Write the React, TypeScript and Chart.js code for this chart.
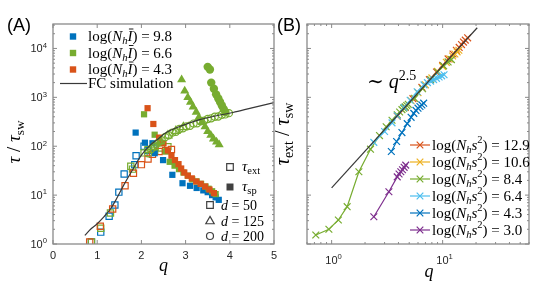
import React, { useEffect, useRef } from 'react';
import { Chart, registerables } from 'chart.js';

Chart.register(...registerables);

// ---------------- Panel A data: [q, tau/tau_sw] ----------------
const fcSimulation: [number, number][] = [
  [0.72, 1.5], [0.85, 2.0], [1.0, 2.6], [1.15, 3.6], [1.3, 5.2], [1.44, 8.5], [1.6, 16],
  [1.8, 33], [2.0, 66], [2.2, 105], [2.35, 135], [2.58, 195], [2.95, 270], [3.32, 350],
  [3.7, 420], [4.07, 490], [4.5, 610], [5.0, 780],
];
const blueExt50: [number, number][] = [
  [0.87, 1.1], [1.08, 1.75], [1.27, 3.7], [1.4, 6.3], [1.49, 11.5], [1.61, 27], [1.85, 42],
  [1.88, 64], [2.06, 100], [2.15, 82], [2.28, 98],
];
const orangeExt50: [number, number][] = [
  [0.83, 1.1], [1.07, 2.3], [1.35, 5.2], [1.63, 15.5], [1.82, 28], [2.0, 42], [2.15, 55],
  [2.25, 68], [2.4, 78], [2.55, 82], [2.68, 86],
];
const greenExt50: [number, number][] = [
  [0.87, 1.1], [1.08, 2.1], [1.3, 4.3], [1.76, 39], [1.8, 34], [2.06, 73], [2.15, 86],
  [2.3, 80], [2.45, 92], [2.6, 98],
];
const blueSp50: [number, number][] = [
  [1.87, 190], [2.08, 118], [2.25, 115], [2.3, 72], [2.49, 52], [2.7, 26], [2.93, 17.5],
  [3.1, 15.5], [3.25, 14], [3.4, 12.5], [3.5, 11.5], [3.6, 10], [3.68, 9], [3.75, 8],
];
const greenSp50: [number, number][] = [
  [2.06, 450], [2.3, 172], [2.42, 115], [2.55, 78], [2.64, 48], [2.75, 40], [2.85, 34],
  [2.95, 29], [3.05, 25], [3.15, 21], [3.25, 19], [3.35, 17], [3.45, 15], [3.52, 13.5],
  [3.6, 12], [3.68, 10.5],
];
const orangeSp50: [number, number][] = [
  [2.14, 600], [2.27, 285], [2.4, 150], [2.5, 115], [2.6, 82], [2.68, 64], [2.76, 52],
  [2.84, 43], [2.9, 35], [2.97, 29], [3.05, 25], [3.14, 22], [3.24, 19], [3.34, 17],
  [3.44, 15], [3.54, 13], [3.64, 11],
];
const greenSp125: [number, number][] = [
  [2.91, 2300], [2.98, 1350], [3.05, 1000], [3.11, 800], [3.17, 640], [3.24, 500],
  [3.3, 390], [3.37, 310], [3.44, 250], [3.5, 200], [3.57, 168], [3.63, 142], [3.7, 122],
  [3.76, 108],
];
const greenExt125: [number, number][] = [
  [2.25, 95], [2.42, 125], [2.6, 165], [2.78, 205], [2.95, 245],
];
const greenSp200: [number, number][] = [
  [3.5, 4200], [3.55, 3700], [3.58, 2000], [3.64, 1500], [3.69, 1150], [3.74, 950],
  [3.78, 800], [3.82, 680], [3.86, 580], [3.9, 500],
];
const greenExt200: [number, number][] = [
  [2.15, 72], [2.22, 88], [2.3, 98], [2.38, 118], [2.46, 132], [2.54, 155], [2.62, 168],
  [2.7, 190], [2.78, 198], [2.86, 225], [2.94, 232], [3.02, 255], [3.1, 262], [3.18, 290],
  [3.26, 296], [3.34, 325], [3.42, 332], [3.5, 360], [3.58, 372], [3.66, 400], [3.74, 405],
  [3.82, 440], [3.9, 448], [3.98, 475],
];

// ---------------- Panel B data: [q, tau_ext/tau_sw] ----------------
const fitQ25: [number, number][] = [[1.0, 14], [20.5, 26500]];
const ns129: [number, number][] = [
  [3.9, 410], [4.6, 620], [5.4, 940], [6.5, 1600], [7.6, 2300], [8.8, 3300], [10, 4500],
  [11.2, 6100], [12.4, 7700], [13.3, 9200], [14.1, 10500], [14.8, 12000], [15.4, 13500],
  [16.0, 14800], [16.8, 16500],
];
const ns106: [number, number][] = [
  [5.2, 850], [6.0, 1250], [7.0, 1800], [8.0, 2500], [9.0, 3400], [10.0, 4300],
  [10.8, 5200], [11.6, 6100], [12.3, 7000], [12.9, 7700], [13.5, 8500], [14.0, 9200],
];
const ns84: [number, number][] = [
  [0.72, 1.53], [0.945, 2.0], [1.15, 3.1], [1.38, 5.8], [1.76, 30], [2.24, 87], [2.7, 165],
  [3.1, 250], [3.5, 340], [3.9, 440], [4.1, 500], [4.3, 560], [4.45, 600], [4.6, 640],
  [4.75, 680], [4.9, 720], [5.6, 950], [6.6, 1500], [7.8, 2300], [9.0, 3300], [10.2, 4400],
  [11.2, 5300], [12.0, 5900],
];
const ns64: [number, number][] = [
  [2.4, 120], [3.0, 200], [3.5, 300], [3.9, 420], [4.5, 620], [5.1, 870], [5.9, 1300],
  [6.8, 1800], [7.3, 2000], [7.8, 2150], [8.3, 2300], [8.8, 2450], [9.3, 2600], [9.8, 2750],
  [10.3, 2900],
];
const ns43: [number, number][] = [
  [3.45, 78], [3.85, 125], [4.3, 190], [4.8, 290], [5.2, 390], [5.5, 470], [5.75, 540],
  [6.0, 600], [6.25, 650], [6.5, 700], [6.75, 760],
];
const ns30: [number, number][] = [
  [2.4, 3.6], [3.28, 11.7], [3.9, 23.6], [4.05, 27], [4.2, 30], [4.35, 33], [4.5, 37],
  [4.65, 41],
];

// ---------------- ticks & labels ----------------
const aXTicks = [0, 1, 2, 3, 4, 5];
const aYDecades = [0, 1, 2, 3, 4];
const bXDecades = [0, 1];
const aLegendValues = ['9.8', '6.6', '4.3'];
const bLegendValues = ['12.9', '10.6', '8.4', '6.4', '4.3', '3.0'];

const BLUE = '#0072BD';
const ORANGE = '#D95319';
const YELLOW = '#EDB120';
const PURPLE = '#7E2F8E';
const GREEN = '#77AC30';
const LBLUE = '#4DBEEE';
const AXIS = '#8a8a8a';
const TXT = '#262626';
const LINEC = '#383838';
const SERIF = '"Liberation Serif","DejaVu Serif",serif';
const SANS = '"Liberation Sans","DejaVu Sans",Arial,sans-serif';

const toXY = (arr: [number, number][]) => arr.map(([x, y]) => ({ x, y }));

type Seg = { t: string; i?: boolean; sub?: boolean; sup?: boolean; bar?: boolean };

function segFont(s: Seg, size: number, fam: string) {
  const sz = s.sub || s.sup ? size * 0.7 : size;
  return `${s.i ? 'italic ' : ''}${sz}px ${fam}`;
}
function richWidth(ctx: CanvasRenderingContext2D, segs: Seg[], size: number, fam: string) {
  let w = 0;
  for (const s of segs) { ctx.font = segFont(s, size, fam); w += ctx.measureText(s.t).width; }
  return w;
}
function drawRich(ctx: CanvasRenderingContext2D, segs: Seg[], x: number, y: number, size: number,
  fam: string, align: 'left' | 'center' | 'right' = 'left', color = '#000') {
  const w = richWidth(ctx, segs, size, fam);
  let cx = align === 'left' ? x : align === 'center' ? x - w / 2 : x - w;
  ctx.textAlign = 'left';
  ctx.textBaseline = 'alphabetic';
  ctx.fillStyle = color;
  for (const s of segs) {
    ctx.font = segFont(s, size, fam);
    const dy = s.sub ? size * 0.22 : s.sup ? -size * 0.42 : 0;
    ctx.fillText(s.t, cx, y + dy);
    const sw = ctx.measureText(s.t).width;
    if (s.bar) {
      ctx.save();
      ctx.strokeStyle = color; ctx.lineWidth = 0.9;
      ctx.beginPath();
      ctx.moveTo(cx + 1.5, y - size * 0.8); ctx.lineTo(cx + sw + 1, y - size * 0.8);
      ctx.stroke();
      ctx.restore();
    }
    cx += sw;
  }
}
function marker(ctx: CanvasRenderingContext2D, kind: string, x: number, y: number, r: number,
  color: string, fill: boolean) {
  ctx.save();
  ctx.beginPath();
  if (kind === 'sq') ctx.rect(x - r, y - r, 2 * r, 2 * r);
  else if (kind === 'tri') { ctx.moveTo(x, y - r * 1.1); ctx.lineTo(x + r, y + r * 0.65); ctx.lineTo(x - r, y + r * 0.65); ctx.closePath(); }
  else if (kind === 'circ') ctx.arc(x, y, r, 0, Math.PI * 2);
  else if (kind === 'x') { ctx.moveTo(x - r, y - r); ctx.lineTo(x + r, y + r); ctx.moveTo(x + r, y - r); ctx.lineTo(x - r, y + r); }
  if (fill) { ctx.fillStyle = color; ctx.fill(); }
  else { ctx.strokeStyle = color; ctx.lineWidth = 1.2; ctx.stroke(); }
  ctx.restore();
}
function seg(ctx: CanvasRenderingContext2D, x1: number, y1: number, x2: number, y2: number) {
  ctx.beginPath(); ctx.moveTo(x1, y1); ctx.lineTo(x2, y2); ctx.stroke();
}
function logTicks(scale: any, min: number, max: number, fn: (p: number, major: boolean) => void) {
  for (let d = Math.floor(Math.log10(min)); d <= Math.ceil(Math.log10(max)); d++) {
    for (let k = 1; k <= 9; k++) {
      const v = k * Math.pow(10, d);
      if (v >= min * 0.999 && v <= max * 1.001) fn(scale.getPixelForValue(v), k === 1);
    }
  }
}
const pow10 = (n: number) => [{ t: '10' }, { t: String(n), sup: true }] as Seg[];
const logNI = (v: string): Seg[] => [{ t: 'log(' }, { t: 'N', i: true }, { t: 'h', i: true, sub: true }, { t: 'I', i: true, bar: true }, { t: ') = ' + v }];
const logNs = (v: string): Seg[] => [{ t: 'log(' }, { t: 'N', i: true }, { t: 'h', i: true, sub: true }, { t: 's', i: true }, { t: '2', sup: true }, { t: ') = ' + v }];

const A_YMIN = 1, A_YMAX = 31623;
const B_XMIN = 0.6, B_XMAX = 60, B_YMIN = 1, B_YMAX = 31623;

const frameA = {
  id: 'frameA',
  afterDraw(chart: any) {
    const { ctx, chartArea: ca, scales } = chart;
    const xs = scales.x, ys = scales.y;
    ctx.save();
    ctx.strokeStyle = AXIS; ctx.lineWidth = 1.3;
    ctx.strokeRect(ca.left, ca.top, ca.right - ca.left, ca.bottom - ca.top);
    ctx.lineWidth = 1;
    for (const v of aXTicks) {
      const p = xs.getPixelForValue(v);
      seg(ctx, p, ca.bottom, p, ca.bottom - 4); seg(ctx, p, ca.top, p, ca.top + 4);
    }
    logTicks(ys, A_YMIN, A_YMAX, (p, major) => {
      const L = major ? 4 : 2;
      seg(ctx, ca.left, p, ca.left + L, p); seg(ctx, ca.right, p, ca.right - L, p);
    });
    // tick labels
    for (const v of aXTicks) {
      drawRich(ctx, [{ t: String(v) }], xs.getPixelForValue(v), ca.bottom + 14.5, 11, SANS, 'center', TXT);
    }
    for (const n of aYDecades) {
      drawRich(ctx, pow10(n), ca.left - 6, ys.getPixelForValue(Math.pow(10, n)) + 4, 11, SANS, 'right', TXT);
    }
    // axis titles
    drawRich(ctx, [{ t: 'q', i: true }], (ca.left + ca.right) / 2, 271, 18, SERIF, 'center', '#000');
    ctx.save();
    ctx.translate(20, 142); ctx.rotate(-Math.PI / 2);
    drawRich(ctx, [{ t: 'τ', i: true }, { t: ' / ' }, { t: 'τ', i: true }, { t: 'sw', sub: true }], 0, 0, 19, SERIF, 'center', '#000');
    ctx.restore();
    // panel label
    drawRich(ctx, [{ t: '(A)' }], 7, 31, 18, SANS, 'left', '#000');
    // top-left legend
    const cols = [BLUE, GREEN, ORANGE];
    const rows = [36.5, 53, 69.5];
    for (let k = 0; k < 3; k++) {
      marker(ctx, 'sq', 73, rows[k], 3.2, cols[k], true);
      drawRich(ctx, logNI(aLegendValues[k]), 88, rows[k] + 4.5, 15, SERIF, 'left', '#000');
    }
    ctx.strokeStyle = LINEC; ctx.lineWidth = 1.2;
    seg(ctx, 60, 83.5, 87, 83.5);
    drawRich(ctx, [{ t: 'FC simulation' }], 88, 88, 15, SERIF, 'left', '#000');
    // bottom-right legend
    const dk = '#404040';
    marker(ctx, 'sq', 230, 167, 3.3, dk, false);
    drawRich(ctx, [{ t: 'τ', i: true }, { t: 'ext', sub: true }], 242, 171, 15, SERIF, 'left', '#000');
    marker(ctx, 'sq', 230, 187, 3.5, dk, true);
    drawRich(ctx, [{ t: 'τ', i: true }, { t: 'sp', sub: true }], 242, 191, 15, SERIF, 'left', '#000');
    marker(ctx, 'sq', 210, 205, 3.3, dk, false);
    drawRich(ctx, [{ t: 'd', i: true }, { t: ' = 50' }], 221, 209.5, 14, SERIF, 'left', '#000');
    marker(ctx, 'tri', 210, 221, 4.2, dk, false);
    drawRich(ctx, [{ t: 'd', i: true }, { t: ' = 125' }], 221, 225.5, 14, SERIF, 'left', '#000');
    marker(ctx, 'circ', 210, 236, 3.5, dk, false);
    drawRich(ctx, [{ t: 'd', i: true }, { t: ' = 200' }], 221, 240.5, 14, SERIF, 'left', '#000');
    ctx.restore();
  },
};

const frameB = {
  id: 'frameB',
  afterDraw(chart: any) {
    const { ctx, chartArea: ca, scales } = chart;
    const xs = scales.x, ys = scales.y;
    ctx.save();
    ctx.strokeStyle = AXIS; ctx.lineWidth = 1.3;
    ctx.strokeRect(ca.left, ca.top, ca.right - ca.left, ca.bottom - ca.top);
    ctx.lineWidth = 1;
    logTicks(xs, B_XMIN, B_XMAX, (p, major) => {
      const L = major ? 4 : 2;
      seg(ctx, p, ca.bottom, p, ca.bottom - L); seg(ctx, p, ca.top, p, ca.top + L);
    });
    logTicks(ys, B_YMIN, B_YMAX, (p, major) => {
      const L = major ? 4 : 2;
      seg(ctx, ca.left, p, ca.left + L, p); seg(ctx, ca.right, p, ca.right - L, p);
    });
    for (const n of bXDecades) {
      drawRich(ctx, pow10(n), xs.getPixelForValue(Math.pow(10, n)) + 2, ca.bottom + 20, 11, SANS, 'center', TXT);
    }
    drawRich(ctx, [{ t: 'q', i: true }], 159, 277, 18, SERIF, 'center', '#000');
    ctx.save();
    ctx.translate(19, 134); ctx.rotate(-Math.PI / 2);
    drawRich(ctx, [{ t: 'τ', i: true }, { t: 'ext', sub: true }, { t: ' / ' }, { t: 'τ', i: true }, { t: 'sw', sub: true }], 0, 0, 20, SERIF, 'center', '#000');
    ctx.restore();
    drawRich(ctx, [{ t: '(B)' }], 7, 31, 18, SANS, 'left', '#000');
    drawRich(ctx, [{ t: '∼ ' }, { t: 'q', i: true }, { t: '2.5', sup: true }], 97, 88, 20, SERIF, 'left', '#000');
    // legend
    const cols = [ORANGE, YELLOW, GREEN, LBLUE, BLUE, PURPLE];
    for (let k = 0; k < 6; k++) {
      const y = 145 + 17 * k;
      ctx.strokeStyle = cols[k]; ctx.lineWidth = 1.2;
      seg(ctx, 140, y, 160, y);
      marker(ctx, 'x', 150, y, 3.3, cols[k], false);
      drawRich(ctx, logNs(bLegendValues[k]), 162, y + 4.5, 15, SERIF, 'left', '#000');
    }
    ctx.restore();
  },
};

const open = 'rgba(0,0,0,0)';

function configA(): any {
  const pts = (data: [number, number][], style: string, r: number, color: string, filled: boolean) => ({
    data: toXY(data), pointStyle: style, pointRadius: r, pointBorderWidth: filled ? 0 : 1.2,
    pointBorderColor: color, pointBackgroundColor: filled ? color : open, showLine: false,
  });
  return {
    type: 'scatter',
    data: {
      datasets: [
        { data: toXY(fcSimulation), showLine: true, pointRadius: 0, borderColor: LINEC, borderWidth: 1.2, cubicInterpolationMode: 'monotone', fill: false },
        pts(greenExt200, 'circle', 3.6, GREEN, false),
        pts(greenExt125, 'triangle', 4.8, GREEN, false),
        pts(greenSp200, 'circle', 4.2, GREEN, true),
        pts(greenSp125, 'triangle', 5.2, GREEN, true),
        pts(orangeSp50, 'rect', 4.4, ORANGE, true),
        pts(greenSp50, 'rect', 4.4, GREEN, true),
        pts(blueSp50, 'rect', 4.4, BLUE, true),
        pts(orangeExt50, 'rect', 4.4, ORANGE, false),
        pts(greenExt50, 'rect', 4.4, GREEN, false),
        pts(blueExt50, 'rect', 4.4, BLUE, false),
      ],
    },
    options: {
      animation: false, responsive: false, events: [],
      layout: { padding: { top: 24, right: 6, left: 0, bottom: 0 } },
      plugins: { legend: { display: false }, tooltip: { enabled: false } },
      scales: {
        x: { type: 'linear', min: 0, max: 5, ticks: { display: false, stepSize: 1 }, grid: { display: false }, border: { display: false }, afterFit: (s: any) => { s.height = 46; } },
        y: { type: 'logarithmic', min: A_YMIN, max: A_YMAX, ticks: { display: false }, grid: { display: false }, border: { display: false }, afterFit: (s: any) => { s.width = 53; } },
      },
    },
    plugins: [frameA],
  };
}

function configB(): any {
  const series = (data: [number, number][], color: string) => ({
    data: toXY(data), showLine: true, borderColor: color, borderWidth: 1.2, pointStyle: 'crossRot',
    pointRadius: 4.8, pointBorderColor: color, pointBorderWidth: 1.2, pointBackgroundColor: color, fill: false,
  });
  return {
    type: 'scatter',
    data: {
      datasets: [
        { data: toXY(fitQ25), showLine: true, pointRadius: 0, borderColor: LINEC, borderWidth: 1.2, fill: false },
        series(ns30, PURPLE),
        series(ns43, BLUE),
        series(ns64, LBLUE),
        series(ns84, GREEN),
        series(ns106, YELLOW),
        series(ns129, ORANGE),
      ],
    },
    options: {
      animation: false, responsive: false, events: [],
      layout: { padding: { top: 24, right: 11, left: 0, bottom: 0 } },
      plugins: { legend: { display: false }, tooltip: { enabled: false } },
      scales: {
        x: { type: 'logarithmic', min: B_XMIN, max: B_XMAX, ticks: { display: false }, grid: { display: false }, border: { display: false }, afterFit: (s: any) => { s.height = 46; } },
        y: { type: 'logarithmic', min: B_YMIN, max: B_YMAX, ticks: { display: false }, grid: { display: false }, border: { display: false }, afterFit: (s: any) => { s.width = 37; } },
      },
    },
    plugins: [frameB],
  };
}

export default function App() {
  const refA = useRef<HTMLCanvasElement>(null);
  const refB = useRef<HTMLCanvasElement>(null);
  useEffect(() => {
    const a = new Chart(refA.current as HTMLCanvasElement, configA());
    const b = new Chart(refB.current as HTMLCanvasElement, configB());
    return () => { a.destroy(); b.destroy(); };
  }, []);
  return (
    <div style={{ position: 'fixed', left: 0, top: 0, width: 540, height: 290, background: '#fff', overflow: 'hidden' }}>
      <canvas ref={refA} width={280} height={290} style={{ position: 'absolute', left: 0, top: 0, width: 280, height: 290 }} />
      <canvas ref={refB} width={270} height={290} style={{ position: 'absolute', left: 270, top: 0, width: 270, height: 290 }} />
    </div>
  );
}
